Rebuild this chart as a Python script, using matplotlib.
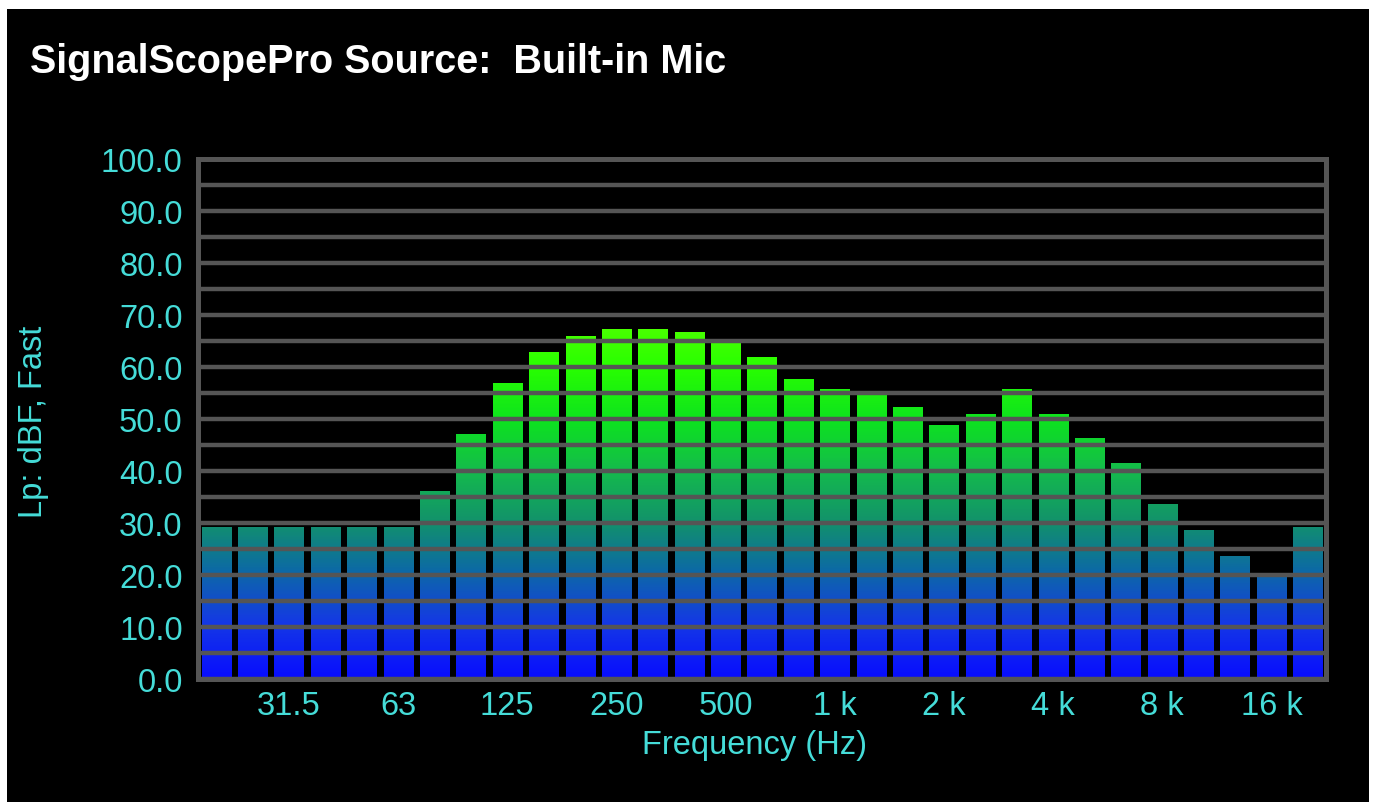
import matplotlib
matplotlib.use("Agg")
import matplotlib.pyplot as plt
import numpy as np
from matplotlib.colors import LinearSegmentedColormap
from matplotlib.patches import Rectangle

# 1/3 octave bands, 20 Hz .. 20 kHz
bands = ["20", "25", "31.5", "40", "50", "63", "80", "100", "125", "160",
         "200", "250", "315", "400", "500", "630", "800", "1 k", "1.25 k", "1.6 k",
         "2 k", "2.5 k", "3.15 k", "4 k", "5 k", "6.3 k", "8 k", "10 k", "12.5 k", "16 k",
         "20 k"]
levels = [29.3, 29.3, 29.3, 29.3, 29.3, 29.3, 36.2, 47.1, 57.0, 62.8,
          66.0, 67.4, 67.3, 66.7, 64.7, 62.0, 57.6, 55.8, 54.6, 52.4,
          48.8, 51.0, 55.8, 51.0, 46.3, 41.5, 33.7, 28.7, 23.7, 19.6,
          29.3]
tick_bands = ["31.5", "63", "125", "250", "500", "1 k", "2 k", "4 k", "8 k", "16 k"]

cyan = "#45dcd8"
grid_gray = "#555555"
font = ["Liberation Sans", "DejaVu Sans"]

# vertical level gradient: blue at the bottom, lime green at the top
meter = LinearSegmentedColormap.from_list("meter", [
    (0.00, (0.03, 0.05, 1.00)),
    (0.15, (0.08, 0.22, 0.90)),
    (0.30, (0.05, 0.42, 0.64)),
    (0.43, (0.07, 0.57, 0.42)),
    (0.57, (0.08, 0.73, 0.30)),
    (0.71, (0.05, 0.89, 0.12)),
    (0.86, (0.16, 1.00, 0.00)),
    (1.00, (0.33, 1.00, 0.00)),
])

fig = plt.figure(figsize=(13.73, 8.03), dpi=100, facecolor="white")
fig.patches.append(Rectangle((7 / 1373, -0.01), 1362 / 1373, 793 / 803 + 0.01,
                             transform=fig.transFigure, facecolor="black",
                             edgecolor="none", zorder=-10))

ax = fig.add_axes([198 / 1373, 1 - 680 / 803, 1128 / 1373, 520 / 803])
ax.set_facecolor("black")

x = np.arange(len(bands))
bars = ax.bar(x, levels, width=0.8, color="none", edgecolor="none")
grad = np.linspace(0, 100, 500).reshape(-1, 1)
for b in bars:
    im = ax.imshow(grad, cmap=meter, vmin=0, vmax=70, origin="lower",
                   extent=[-0.5, len(bands) - 0.5, 0, 100], aspect="auto",
                   interpolation="bilinear", zorder=1)
    im.set_clip_path(b)

ax.set_xlim(-0.5, len(bands) - 0.5)
ax.set_ylim(0, 100)

ax.set_yticks(np.arange(0, 101, 10))
ax.set_yticklabels([f"{v:.1f}" for v in np.arange(0, 101, 10)])
ax.set_yticks(np.arange(5, 100, 10), minor=True)
ax.set_xticks([bands.index(t) for t in tick_bands])
ax.set_xticklabels(tick_bands)

ax.grid(True, axis="y", which="both", color=grid_gray, linewidth=3.2, zorder=3)
ax.set_axisbelow(False)
ax.tick_params(axis="both", which="both", length=0, colors=cyan, labelsize=23.5)
ax.tick_params(axis="y", pad=11)
ax.tick_params(axis="x", pad=8)
for lab in ax.get_xticklabels() + ax.get_yticklabels():
    lab.set_family(font)
for s in ax.spines.values():
    s.set_color(grid_gray)
    s.set_linewidth(3.6)

fig.text(30 / 1373, 1 - 62 / 803, "SignalScopePro Source:  Built-in Mic",
         color="white", fontsize=28.5, fontweight="bold", family=font,
         ha="left", va="center")
fig.text(754 / 1373, 1 - 746 / 803, "Frequency (Hz)", color=cyan,
         fontsize=23.5, family=font, ha="center", va="center")
fig.text(34 / 1373, 1 - 422 / 803, "Lp: dBF, Fast", color=cyan,
         fontsize=23.5, family=font, ha="center", va="center", rotation=90)

fig.savefig("out.png", dpi=100, facecolor=fig.get_facecolor())
